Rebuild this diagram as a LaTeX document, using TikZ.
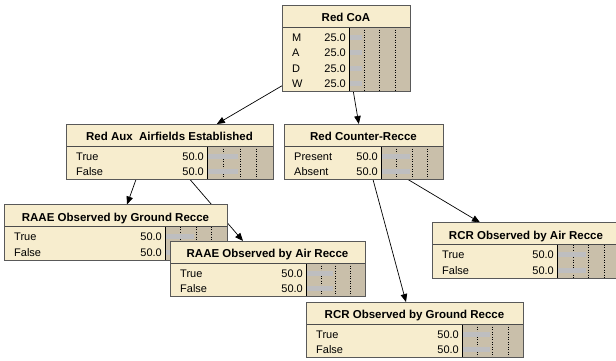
\documentclass[tikz,border=0pt]{standalone}
\usepackage{fontspec}
\setmainfont{Liberation Sans}
\usetikzlibrary{arrows.meta, backgrounds}

\definecolor{nodecream}{RGB}{247,237,206}
\definecolor{bartan}{RGB}{201,191,170}
\definecolor{bargray}{RGB}{190,190,192}

\tikzset{
    nodebox/.style={draw=black!65, fill=nodecream, line width=0.6pt, inner sep=0pt, outer sep=0pt},
    titletext/.style={font=\bfseries\fontsize{11.5}{13}\selectfont, inner sep=0pt},
    rowtext/.style={font=\fontsize{11}{13}\selectfont, inner sep=0pt},
    link/.style={draw=black, line width=0.7pt, -{Triangle[length=8pt,width=6.5pt]}},
}

% name, left, top, width, bar start, title, rows, states
\newcommand{\netnode}[8]{%
    \begin{scope}[shift={(#2,#3)}]
        \pgfmathsetmacro{\boxh}{24.5+15.5*#7}
        \node[nodebox, minimum width=#4pt, minimum height=\boxh pt, anchor=north west] (#1) at (0,0) {};
        \node[titletext, anchor=base] (#1-t) at ({#4/2},16.5) {#6};
        % belief bars
        \fill[bartan] (#5,22) rectangle (#4,\boxh);
        \foreach \f in {0.25,0.5,0.75}
            \draw[dotted, line width=0.5pt] ({#5+(#4-#5)*\f},22) -- ({#5+(#4-#5)*\f},\boxh);
        \foreach \lab/\val [count=\i] in {#8} {
            \node[rowtext, anchor=base west] (#1-l\i) at (10,{36+15.5*(\i-1)}) {\lab};
            \node[rowtext, anchor=base east] (#1-v\i) at (#5-3,{36+15.5*(\i-1)}) {\val};
            \fill[bargray] (#5,{29.5+15.5*(\i-1)}) rectangle ({#5+(#4-#5)*\val/100-2.5},{34.5+15.5*(\i-1)});
        }
        \draw[line width=1pt] (#5,22) -- (#5,\boxh) -- (#4,\boxh) -- (#4,22);
        \draw[line width=0.6pt, black!70] (0,22) -- (#4,22);
        \draw[black!65, line width=0.6pt] (0,0) rectangle (#4,\boxh);
    \end{scope}}

\begin{document}
\begin{tikzpicture}[x=1pt, y=-1pt]
    \useasboundingbox (0,0) rectangle (616,360);

    % Nodes
    \netnode{coa}{282}{5}{128}{67}{Red CoA}{4}{M/25.0, A/25.0, D/25.0, W/25.0}
    \netnode{aux}{66}{124}{207}{141}{Red Aux\ \ Airfields Established}{2}{True/50.0, False/50.0}
    \netnode{cr}{284}{124}{159}{97}{Red Counter-Recce}{2}{Present/50.0, Absent/50.0}
    \netnode{raaeg}{4}{204.5}{223}{161}{RAAE Observed by Ground Recce}{2}{True/50.0, False/50.0}
    \netnode{raaea}{170}{241}{195}{136}{RAAE Observed by Air Recce}{2}{True/50.0, False/50.0}
    \netnode{rcra}{432}{222.5}{188}{125}{RCR Observed by Air Recce}{2}{True/50.0, False/50.0}
    \netnode{rcrg}{306}{302}{217}{156}{RCR Observed by Ground Recce}{2}{True/50.0, False/50.0}

    % Links
    \begin{scope}[on background layer]
        \draw[link] (coa) -- (aux);
        \draw[link] (coa) -- (cr);
        \draw[link] ([xshift=70pt]aux.south west) -- ([xshift=123pt]raaeg.north west);
        \draw[link] ([xshift=124pt]aux.south west) -- ([xshift=73pt]raaea.north west);
        \draw[link] ([xshift=89pt]cr.south west) -- ([xshift=100pt]rcrg.north west);
        \draw[link] ([xshift=124pt]cr.south west) -- ([xshift=48pt]rcra.north west);
    \end{scope}
\end{tikzpicture}
\end{document}
